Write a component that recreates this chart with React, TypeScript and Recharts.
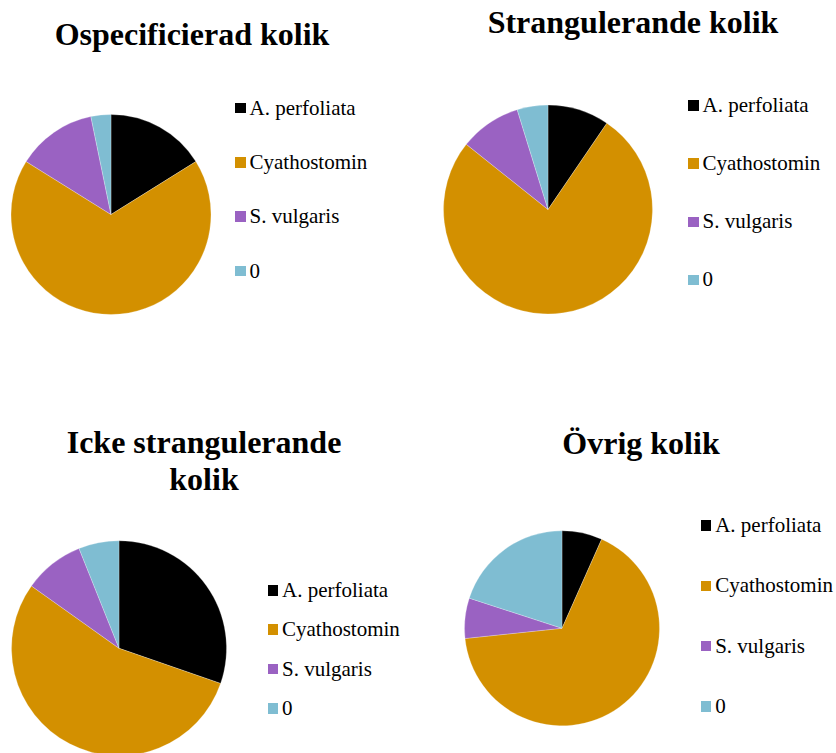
import { PieChart, Pie, Cell, Legend } from 'recharts';

const categories = ['A. perfoliata', 'Cyathostomin', 'S. vulgaris', '0'];
const COLORS = ['#000000', '#D39000', '#9A62C2', '#7FBDD2'];

const ospecificierad = [5, 21, 4, 1];
const strangulerande = [2, 16, 2, 1];
const ickeStrangulerande = [10, 18, 3, 2];
const ovrig = [1, 10, 1, 3];

const FONT = '"Liberation Serif", "Times New Roman", serif';

type Panel = {
  title: string[];
  values: number[];
  left: number;
  top: number;
  titleX: number;
  titleTop: number;
  titleLH: number;
  cx: number;
  cy: number;
  r: number;
  legendLeft: number;
  legendTop: number;
  legendStep: number;
};

const panels: Panel[] = [
  {
    title: ['Ospecificierad kolik'], values: ospecificierad, left: 0, top: 0,
    titleX: 192, titleTop: 18, titleLH: 32,
    cx: 111, cy: 214.5, r: 100,
    legendLeft: 235, legendTop: 81, legendStep: 54.3,
  },
  {
    title: ['Strangulerande kolik'], values: strangulerande, left: 418, top: 0,
    titleX: 215, titleTop: 6, titleLH: 32,
    cx: 130, cy: 209.5, r: 104.5,
    legendLeft: 270, legendTop: 76.6, legendStep: 58.1,
  },
  {
    title: ['Icke strangulerande', 'kolik'], values: ickeStrangulerande, left: 0, top: 376,
    titleX: 204, titleTop: 48, titleLH: 37,
    cx: 119, cy: 272.3, r: 107.5,
    legendLeft: 267.5, legendTop: 194.6, legendStep: 39.4,
  },
  {
    title: ['Övrig kolik'], values: ovrig, left: 418, top: 376,
    titleX: 223, titleTop: 50.5, titleLH: 32,
    cx: 144, cy: 252.3, r: 97.5,
    legendLeft: 282.7, legendTop: 119.6, legendStep: 60.2,
  },
];

function renderLegend(step: number) {
  return () => (
    <div style={{ fontFamily: FONT, fontSize: 21, color: '#000' }}>
      {categories.map((c, i) => (
        <div key={c} style={{ height: step, display: 'flex', alignItems: 'center', whiteSpace: 'nowrap' }}>
          <span style={{ width: 10.5, height: 10.5, background: COLORS[i], display: 'inline-block', marginRight: 4 }} />
          <span style={{ lineHeight: '21px' }}>{c}</span>
        </div>
      ))}
    </div>
  );
}

function PiePanel({ p }: { p: Panel }) {
  const data = categories.map((name, i) => ({ name, value: p.values[i] }));
  return (
    <div style={{ position: 'absolute', left: p.left, top: p.top, width: 418, height: 377 }}>
      <div
        style={{
          position: 'absolute', left: p.titleX - 200, top: p.titleTop, width: 400,
          textAlign: 'center', fontFamily: FONT, fontWeight: 'bold', fontSize: 32,
          lineHeight: `${p.titleLH}px`, color: '#000', zIndex: 2,
        }}
      >
        {p.title.map((t) => (
          <div key={t}>{t}</div>
        ))}
      </div>
      <PieChart width={418} height={377} margin={{ top: 0, right: 0, bottom: 0, left: 0 }}>
        <Pie
          data={data}
          dataKey="value"
          nameKey="name"
          cx={p.cx}
          cy={p.cy}
          outerRadius={p.r}
          startAngle={90}
          endAngle={-270}
          stroke="#ffffff"
          strokeWidth={0.25}
          isAnimationActive={false}
        >
          {data.map((d, i) => (
            <Cell key={d.name} fill={COLORS[i]} />
          ))}
        </Pie>
        <Legend
          content={renderLegend(p.legendStep)}
          wrapperStyle={{ left: p.legendLeft, top: p.legendTop, width: 150, right: 'auto', bottom: 'auto' }}
        />
      </PieChart>
    </div>
  );
}

export default function App() {
  return (
    <div style={{ position: 'absolute', left: 0, top: 0, width: 836, height: 753, background: '#fff', overflow: 'hidden' }}>
      {panels.map((p) => (
        <PiePanel key={p.title.join(' ')} p={p} />
      ))}
    </div>
  );
}
